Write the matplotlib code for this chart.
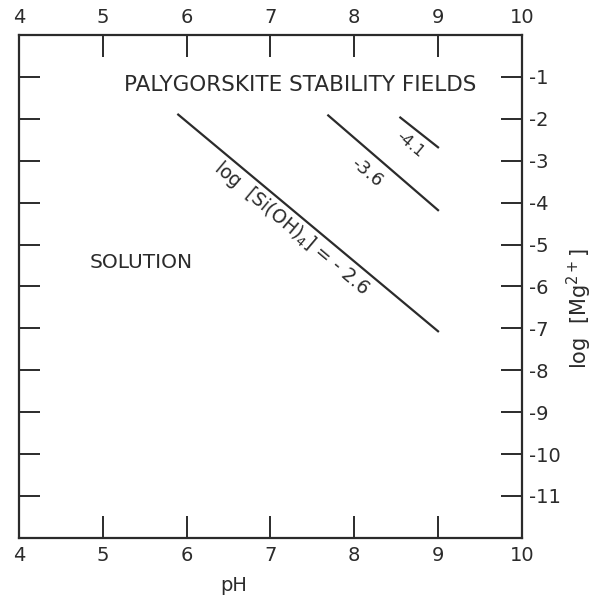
import matplotlib
matplotlib.use("Agg")
import matplotlib.pyplot as plt

# axis ticks
ph_ticks = [4, 5, 6, 7, 8, 9, 10]
mg_ticks = [-1, -2, -3, -4, -5, -6, -7, -8, -9, -10, -11]

# stability boundaries, log [Si(OH)4] = -2.6, -3.6, -4.1
line_26_ph = [5.9, 9.0]
line_26_mg = [-1.9, -7.07]
line_36_ph = [7.69, 9.0]
line_36_mg = [-1.92, -4.18]
line_41_ph = [8.55, 9.0]
line_41_mg = [-1.97, -2.68]

ink = "#2b2b2b"
plt.rcParams['font.family'] = ['DejaVu Sans']

fig = plt.figure(figsize=(5.93, 6.03), dpi=100)
ax = fig.add_axes([0.032, 0.108, 0.848, 0.834])

for xs, ys in [(line_26_ph, line_26_mg), (line_36_ph, line_36_mg), (line_41_ph, line_41_mg)]:
    ax.plot(xs, ys, color=ink, lw=1.6)

ax.set_xlim(4, 10)
ax.set_ylim(-12, 0)

ax.set_xticks(ph_ticks)
ax.set_xticklabels([str(t) for t in ph_ticks])
ax.tick_params(axis='x', which='both', direction='in', length=16, width=1.4,
               top=True, labeltop=True, colors=ink, labelsize=14, pad=6)

ax.set_yticks(mg_ticks)
ax.set_yticklabels(["-" + str(-t) for t in mg_ticks])
ax.yaxis.tick_right()
ax.tick_params(axis='y', which='both', direction='in', length=15, width=1.4,
               left=True, right=True, labelleft=False, labelright=True,
               colors=ink, labelsize=14, pad=5)

for s in ax.spines.values():
    s.set_color(ink)
    s.set_linewidth(1.6)

ax.set_xlabel("pH", color=ink, fontsize=14)
ax.xaxis.set_label_coords(0.427, -0.075)
ax.yaxis.set_label_position('right')
ax.set_ylabel("log  [Mg$^{2+}$]", color=ink, fontsize=15, rotation=90)
ax.yaxis.set_label_coords(1.085, 0.457)

ax.text(7.36, -1.19, "PALYGORSKITE STABILITY FIELDS", ha='center', va='center',
        color=ink, fontsize=15.5)
ax.text(5.46, -5.42, "SOLUTION", ha='center', va='center', color=ink, fontsize=14.5)

ax.text(7.25, -4.6, "log  [Si(OH)$_4$] = - 2.6", ha='center', va='center',
        color=ink, fontsize=13.5, rotation=-40, rotation_mode='anchor')
ax.text(8.15, -3.27, "-3.6", ha='center', va='center', color=ink, fontsize=13,
        rotation=-40, rotation_mode='anchor')
ax.text(8.67, -2.62, "-4.1", ha='center', va='center', color=ink, fontsize=11.5,
        rotation=-40, rotation_mode='anchor')

fig.savefig("out.png", dpi=100)
